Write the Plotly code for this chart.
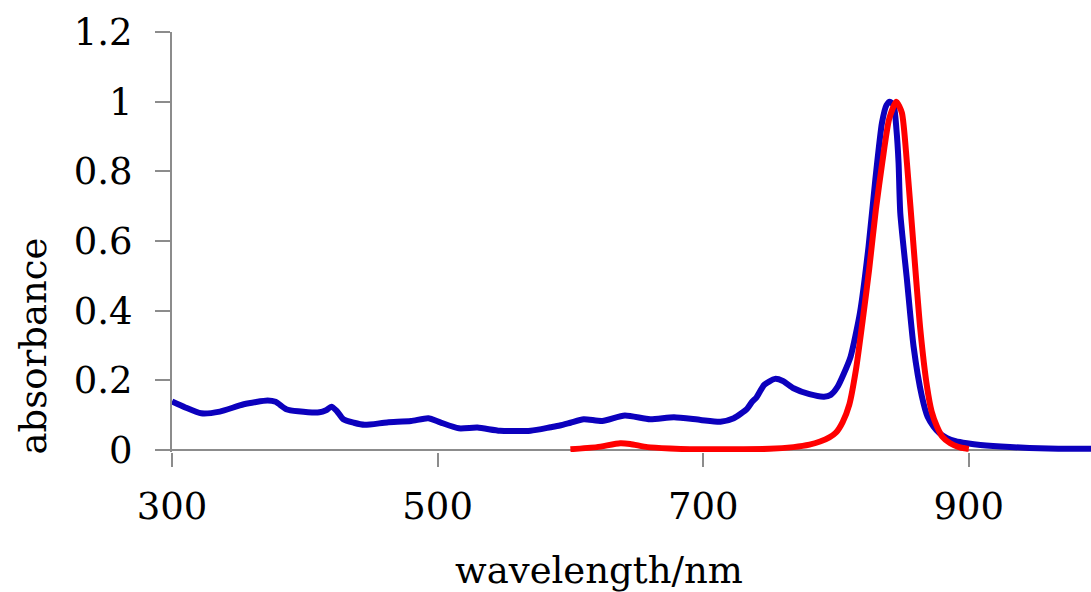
import plotly.graph_objects as go

# Blue spectrum (wavelength nm, absorbance)
blue_wl = [300, 310, 322, 336, 354, 372, 378, 386, 395, 411, 416, 420, 424, 429, 437, 445,
           462, 480, 493, 502, 516, 530, 547, 570, 585, 592, 600, 610, 624, 641, 660, 678,
           698, 713, 723, 733, 737, 740, 746, 754, 760, 768, 780, 791, 796, 801, 806, 811,
           818, 824.5, 829.6, 834.6, 838, 840.5, 843.4, 845.5, 847.1, 848.4, 853.4, 858.4,
           864.7, 869, 873.5, 878, 883.6, 890, 898.6, 908.7, 931, 960, 992]
blue_abs = [0.139, 0.122, 0.105, 0.110, 0.131, 0.142, 0.138, 0.117, 0.111, 0.108, 0.114, 0.124,
            0.112, 0.088, 0.078, 0.072, 0.079, 0.083, 0.091, 0.079, 0.062, 0.064, 0.055, 0.055,
            0.065, 0.070, 0.078, 0.088, 0.083, 0.099, 0.088, 0.094, 0.086, 0.081, 0.091, 0.118,
            0.139, 0.150, 0.187, 0.204, 0.198, 0.177, 0.160, 0.153, 0.158, 0.180, 0.220, 0.268,
            0.393, 0.584, 0.776, 0.939, 0.990, 1.000, 0.990, 0.920, 0.824, 0.680, 0.489, 0.297,
            0.153, 0.095, 0.067, 0.048, 0.034, 0.025, 0.019, 0.014, 0.008, 0.004, 0.003]

# Red spectrum
red_wl = [600, 620, 637.5, 645, 658, 675, 690, 720, 750, 768, 780, 788, 795, 800, 805,
          810, 815, 820, 825, 830, 835, 840, 845.4, 849.6, 853.4, 858.4, 863.5,
          868.5, 872, 876, 880, 886, 892, 898, 900]
red_abs = [0.002, 0.008, 0.019, 0.017, 0.008, 0.004, 0.002, 0.002, 0.003, 0.008, 0.015, 0.024,
           0.036, 0.050, 0.080, 0.130, 0.230, 0.370, 0.520, 0.690, 0.830, 0.950, 1.000, 0.968,
           0.824, 0.584, 0.345, 0.182, 0.110, 0.067, 0.038, 0.019, 0.009, 0.004, 0.003]

x_ticks = [300, 500, 700, 900]
y_ticks = [0, 0.2, 0.4, 0.6, 0.8, 1.0, 1.2]
y_tick_text = ["0", "0.2", "0.4", "0.6", "0.8", "1", "1.2"]

FONT = "DejaVu Serif"
AXIS_COLOR = "#8c8c8c"

fig = go.Figure()
fig.add_trace(go.Scatter(x=blue_wl, y=blue_abs, mode="lines",
                         line=dict(color="#0c00bd", width=6, shape="spline", smoothing=0.6),
                         showlegend=False, hoverinfo="skip"))
fig.add_trace(go.Scatter(x=red_wl, y=red_abs, mode="lines",
                         line=dict(color="#ff0000", width=6, shape="spline", smoothing=0.6),
                         showlegend=False, hoverinfo="skip"))

fig.update_layout(
    width=1091, height=592,
    margin=dict(l=172, r=0, t=32, b=140),
    paper_bgcolor="white", plot_bgcolor="white",
    font=dict(family=FONT, size=37, color="black"),
    xaxis=dict(range=[300, 992], tickvals=x_ticks, ticks="outside", ticklen=14,
               tickwidth=2, tickcolor=AXIS_COLOR, showline=False, showgrid=False,
               zeroline=False, ticklabelstandoff=8,
               tickfont=dict(family=FONT, size=37, color="black")),
    yaxis=dict(range=[-0.006, 1.2], tickvals=y_ticks, ticktext=y_tick_text,
               ticks="outside", ticklen=15, tickwidth=2, tickcolor=AXIS_COLOR,
               showline=True, linecolor=AXIS_COLOR, linewidth=2, showgrid=False,
               zeroline=True, zerolinecolor=AXIS_COLOR, zerolinewidth=2,
               ticklabelstandoff=15,
               tickfont=dict(family=FONT, size=37, color="black")),
)

fig.add_annotation(text="wavelength/nm", xref="paper", yref="paper",
                   x=(599 - 172) / 919, y=(452 - 570) / 420,
                   xanchor="center", yanchor="middle", showarrow=False,
                   font=dict(family=FONT, size=37, color="black"))
fig.add_annotation(text="absorbance", xref="paper", yref="paper",
                   x=(32.5 - 172) / 919, y=(452 - 346) / 420, textangle=-90,
                   xanchor="center", yanchor="middle", showarrow=False,
                   font=dict(family=FONT, size=37, color="black"))

fig.write_html("out.html")
